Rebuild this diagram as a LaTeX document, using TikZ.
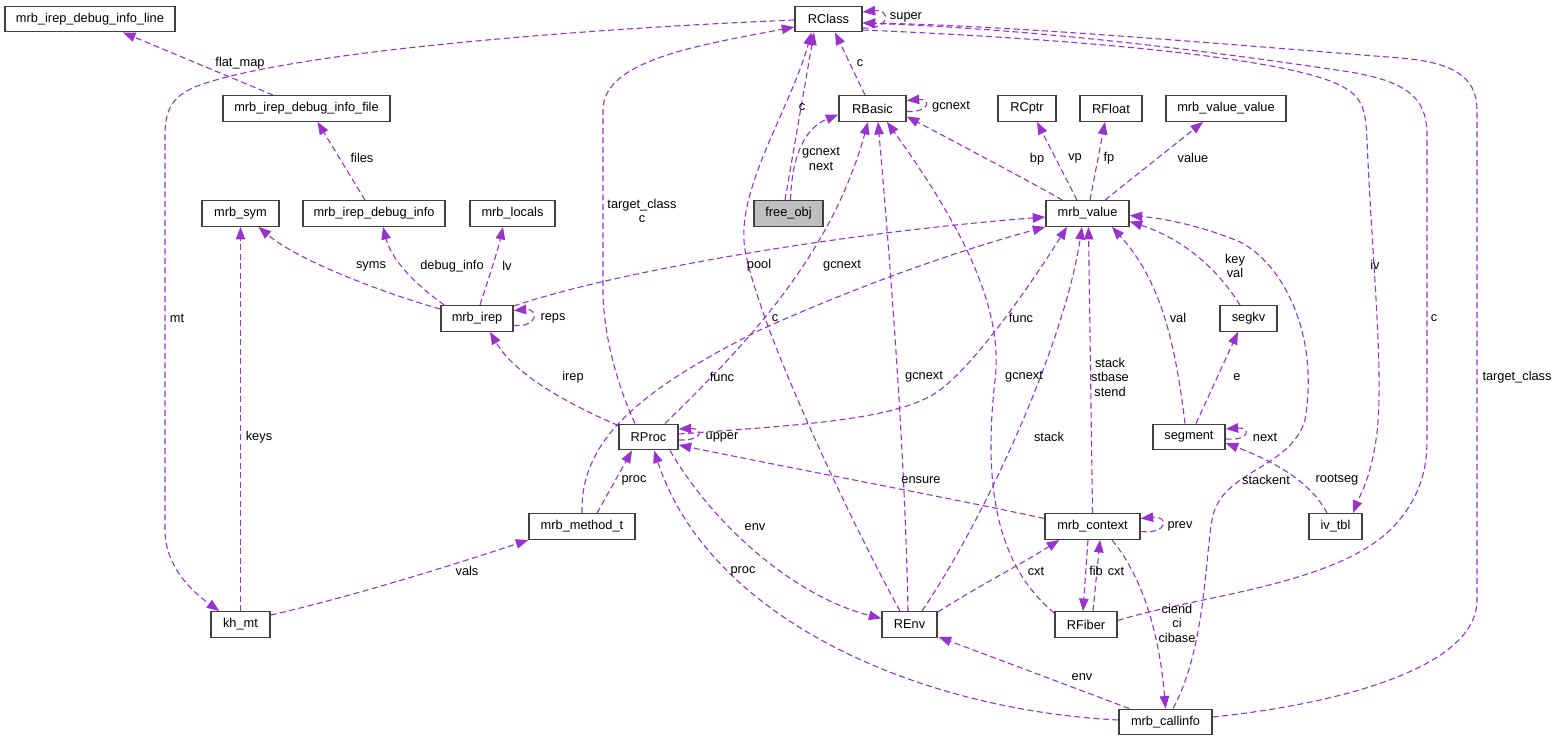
\documentclass[tikz,border=0pt]{standalone}
\usepackage{fontspec}
\setmainfont{Liberation Sans}
\usetikzlibrary{arrows.meta,calc,backgrounds}
\definecolor{edgecol}{HTML}{9A32CD}
\definecolor{nodeborder}{HTML}{404040}
\definecolor{subjfill}{HTML}{BFBFBF}
\newcommand\dxfont{\fontsize{12.8}{14.5}\selectfont}
\begin{document}
\begin{tikzpicture}[x=1pt,y=-1pt,
 box/.style={draw=nodeborder,line width=1.4pt,fill=white,minimum height=25.5pt,inner sep=0pt,font=\dxfont},
 rel/.style={draw=edgecol,line width=1.1pt,dash pattern=on 6pt off 3.5pt,-{Triangle[length=12.5pt,width=9.5pt]}},
 lab/.style={font=\dxfont,inner sep=0pt,align=center}]
\useasboundingbox (0,0) rectangle (1559,741);
% nodes
\node[box,minimum width=170pt] (line) at (90,19) {mrb\_irep\_debug\_info\_line};
\node[box,minimum width=167pt] (file) at (306.5,108.5) {mrb\_irep\_debug\_info\_file};
\node[box,minimum width=77pt] (sym) at (240.5,213.5) {mrb\_sym};
\node[box,minimum width=142pt] (dinfo) at (374,213.5) {mrb\_irep\_debug\_info};
\node[box,minimum width=85pt] (locals) at (512.5,213.5) {mrb\_locals};
\node[box,minimum width=67pt] (RClass) at (828.5,19) {RClass};
\node[box,minimum width=67pt] (RBasic) at (872.5,108.5) {RBasic};
\node[box,minimum width=58pt] (RCptr) at (1027,108.5) {RCptr};
\node[box,minimum width=62pt] (RFloat) at (1111,108.5) {RFloat};
\node[box,minimum width=120pt] (mvv) at (1226,108.5) {mrb\_value\_value};
\node[box,minimum width=69pt,fill=subjfill] (free) at (788.5,213.5) {free\_obj};
\node[box,minimum width=83pt] (mval) at (1087.5,213.5) {mrb\_value};
\node[box,minimum width=72pt] (irep) at (477,318.5) {mrb\_irep};
\node[box,minimum width=57pt] (segkv) at (1248.5,318.5) {segkv};
\node[box,minimum width=59pt] (RProc) at (648.5,437) {RProc};
\node[box,minimum width=72pt] (segment) at (1189,437) {segment};
\node[box,minimum width=106pt] (mt) at (582,526.5) {mrb\_method\_t};
\node[box,minimum width=95pt] (ctx) at (1092.5,526.5) {mrb\_context};
\node[box,minimum width=53pt] (ivtbl) at (1335.5,526.5) {iv\_tbl};
\node[box,minimum width=59pt] (kh) at (240.5,624.5) {kh\_mt};
\node[box,minimum width=55pt] (REnv) at (909.5,624.5) {REnv};
\node[box,minimum width=62pt] (RFiber) at (1086,624.5) {RFiber};
\node[box,minimum width=93pt] (callinfo) at (1165.5,722) {mrb\_callinfo};
% connectors
\begin{scope}[on background layer]
\fill[white] (0,0) rectangle (1559,741);
\draw[rel] ($(file.north)+(-33.5,0)$) -- ($(line.south)+(33,0)$);
\draw[rel] ($(dinfo.north)+(-9,0)$) -- ($(file.south)+(11,0)$);
\draw[rel] ($(irep.north west)+(0,4)$) .. controls (390,295) and (300,262) .. ($(sym.south)+(18,0)$);
\draw[rel] ($(irep.north west)+(4,0)$) .. controls (420,288) and (392,262) .. ($(dinfo.south)+(9,0)$);
\draw[rel] ($(irep.north)+(3,0)$) .. controls (488,280) and (498,250) .. ($(locals.south)+(-9.5,0)$);
\draw[rel] ($(irep.east)+(0,7)$) .. controls +(25,2) and +(25,-2) .. ($(irep.east)+(0,-8)$);
\draw[rel] ($(irep.north east)+(0,1)$) .. controls (620,270) and (850,232) .. ($(mval.west)+(0,3.5)$);
\draw[rel] (mt.north) .. controls (580,440) and (640,390) .. (760,330) .. controls (860,285) and (960,250) .. (mval.south west);
\draw[rel] ($(RProc.east)+(0,-3)$) .. controls (800,425) and (900,420) .. (940,390) .. controls (980,360) and (1040,270) .. ($(mval.south)+(-20.5,0)$);
\draw[rel] (ctx.north) -- ($(mval.south)+(1,0)$);
\draw[rel] ($(REnv.north)+(12.5,0)$) .. controls (990,510) and (1065,340) .. ($(mval.south)+(-5.5,0)$);
\draw[rel] ($(segment.north)+(-4,0)$) .. controls (1175,340) and (1160,280) .. ($(mval.south)+(24.5,0)$);
\draw[rel] ($(segkv.north)+(-8.5,0)$) .. controls (1215,265) and (1180,238) .. ($(mval.east)+(0,8)$);
\draw[rel] ($(callinfo.north)+(7.5,0)$) .. controls (1205,650) and (1205,560) .. (1212,520) .. controls (1220,470) and (1290,470) .. (1305,420) .. controls (1320,330) and (1280,262) .. (1240,242) .. controls (1200,225) and (1160,218) .. ($(mval.east)+(0,2)$);
\draw[rel] ($(mval.north west)+(17,0)$) .. controls (1045,190) and (980,155) .. ($(RBasic.east)+(0,8)$);
\draw[rel] ($(mval.north)+(-10.5,0)$) -- ($(RCptr.south)+(10,0)$);
\draw[rel] ($(mval.north)+(2.5,0)$) -- ($(RFloat.south)+(-6,0)$);
\draw[rel] ($(mval.north)+(17.5,0)$) -- ($(mvv.south)+(-23,0)$);
\draw[rel] ($(RBasic.north)+(-7.5,0)$) -- ($(RClass.south)+(6.5,0)$);
\draw[rel] ($(free.north)+(-3.5,0)$) -- ($(RClass.south)+(-14.5,0)$);
\draw[rel] ($(free.north)+(2,0)$) .. controls (792,155) and (805,128) .. ($(RBasic.west)+(0,6)$);
\draw[rel] ($(REnv.north)+(-9.5,0)$) .. controls (850,520) and (760,330) .. (745,250) .. controls (735,190) and (790,110) .. ($(RClass.south)+(-17,0)$);
\draw[rel] ($(RProc.north)+(16.5,0)$) .. controls (740,350) and (830,260) .. ($(RBasic.south)+(-4.5,0)$);
\draw[rel] ($(REnv.north)+(-1.5,0)$) .. controls (905,450) and (890,260) .. ($(RBasic.south)+(5.5,0)$);
\draw[rel] ($(RFiber.north west)+(0,2)$) .. controls (990,560) and (985,470) .. (995,380) .. controls (1005,300) and (950,210) .. ($(RBasic.south)+(14.5,0)$);
\draw[rel] ($(RBasic.east)+(0,3)$) .. controls +(24,1) and +(24,-2) .. ($(RBasic.east)+(0,-8)$);
\draw[rel] ($(RClass.east)+(0,9)$) .. controls +(28,2) and +(28,-3) .. ($(RClass.east)+(0,-7)$);
\draw[rel] ($(RProc.north)+(-13.5,0)$) .. controls (615,380) and (603,330) .. (603,290) -- (603,110) .. controls (603,60) and (700,45) .. ($(RClass.west)+(0,8)$);
\draw[rel] ($(RProc.north west)+(0,2)$) .. controls (570,405) and (515,375) .. ($(irep.south)+(13,0)$);
\draw[rel] ($(RProc.south)+(21.5,0)$) .. controls (710,520) and (790,595) .. ($(REnv.west)+(0,-6)$);
\draw[rel] ($(callinfo.west)+(0,-2)$) .. controls (920,710) and (710,620) .. ($(RProc.south)+(5.5,0)$);
\draw[rel] ($(mt.north)+(15,0)$) -- ($(RProc.south)+(-16.5,0)$);
\draw[rel] ($(kh.north east)+(0,4)$) .. controls (350,597) and (450,566) .. (mt.south west);
\draw[rel] ($(RClass.west)+(0,1)$) .. controls (600,28) and (300,50) .. (200,85) .. controls (172,95) and (165,110) .. (165,135) -- (165,530) .. controls (165,565) and (190,590) .. ($(kh.north west)+(9,0)$);
\draw[rel] (kh.north) -- (sym.south);
\draw[rel] ($(RClass.east)+(0,11)$) .. controls (1100,40) and (1300,60) .. (1345,88) .. controls (1362,98) and (1366,110) .. (1367,140) .. controls (1372,260) and (1385,380) .. (1376,440) .. controls (1370,480) and (1360,495) .. ($(ivtbl.north)+(17.5,0)$);
\draw[rel] ($(RFiber.east)+(0,-4)$) .. controls (1200,595) and (1340,585) .. (1395,525) .. controls (1420,497) and (1427,470) .. (1427,440) -- (1427,135) .. controls (1427,100) and (1410,82) .. (1350,72) .. controls (1150,42) and (1000,28) .. ($(RClass.east)+(0,4)$);
\draw[rel] ($(callinfo.east)+(0,-5)$) .. controls (1330,705) and (1477,670) .. (1477,600) -- (1477,110) .. controls (1477,75) and (1450,62) .. (1400,58) .. controls (1200,42) and (1000,25) .. ($(RClass.east)+(0,4)$);
\draw[rel] ($(ivtbl.north)+(-8.5,0)$) .. controls (1310,480) and (1270,460) .. ($(segment.east)+(0,6)$);
\draw[rel] ($(segment.north)+(7,0)$) -- ($(segkv.south)+(-10.5,0)$);
\draw[rel] ($(segment.east)+(0,2)$) .. controls +(25,2) and +(25,-2) .. ($(segment.east)+(0,-8)$);
\draw[rel] ($(ctx.east)+(0,5)$) .. controls +(28,3) and +(28,-3) .. ($(ctx.east)+(0,-8)$);
\draw[rel] ($(ctx.west)+(0,-8)$) .. controls (950,498) and (800,470) .. ($(RProc.east)+(0,8)$);
\draw[rel] ($(REnv.north east)+(0,1)$) .. controls (980,585) and (1020,565) .. ($(ctx.south west)+(15,0)$);
\draw[rel] ($(callinfo.north west)+(11,0)$) -- ($(REnv.south east)+(1,-1)$);
\draw[rel] ($(ctx.south)+(19.5,0)$) .. controls (1145,580) and (1160,640) .. (callinfo.north);
\draw[rel] ($(ctx.south)+(-4.5,0)$) -- ($(RFiber.north)+(-3,0)$);
\draw[rel] ($(RFiber.north)+(7,0)$) -- ($(ctx.south)+(7.5,0)$);
\draw[rel] ($(RProc.east)+(0,3)$) .. controls +(25,1) and +(25,-1) .. ($(RProc.east)+(0,-8)$);
\end{scope}
% labels
\node[lab] (l1) at (240,63) {flat\_map};
\node[lab] (l2) at (362,158) {files};
\node[lab] (l3) at (371,266) {syms};
\node[lab] (l4) at (452,266) {debug\_info};
\node[lab] (l5) at (507,266) {lv};
\node[lab] (l6) at (553,318) {reps};
\node[lab] (l7) at (759,265) {pool};
\node[lab] (l8) at (722,377) {func};
\node[lab] (l9) at (1021,318) {func};
\node[lab] (l10) at (1110,377) {stack\\stbase\\stend};
\node[lab] (l11) at (1049,437) {stack};
\node[lab] (l12) at (1178,318) {val};
\node[lab] (l13) at (1235,266) {key\\val};
\node[lab] (l14) at (1266,480) {stackent};
\node[lab] (l15) at (1037,159) {bp};
\node[lab] (l16) at (1075,158) {vp};
\node[lab] (l17) at (1109,158) {fp};
\node[lab] (l18) at (1193,158) {value};
\node[lab] (l19) at (860,63) {c};
\node[lab] (l20) at (802,107) {c};
\node[lab] (l21) at (821,159) {gcnext\\next};
\node[lab] (l22) at (775,318) {c};
\node[lab] (l23) at (842,266) {gcnext};
\node[lab] (l24) at (924,377) {gcnext};
\node[lab] (l25) at (1024,377) {gcnext};
\node[lab] (l26) at (951,107) {gcnext};
\node[lab] (l27) at (906,17) {super};
\node[lab] (l28) at (642,211) {target\_class\\c};
\node[lab] (l29) at (573,377) {irep};
\node[lab] (l30) at (755,527) {env};
\node[lab] (l31) at (743,571) {proc};
\node[lab] (l32) at (634,480) {proc};
\node[lab] (l33) at (467,571) {vals};
\node[lab] (l34) at (177,318) {mt};
\node[lab] (l35) at (259,437) {keys};
\node[lab] (l36) at (1375,265) {iv};
\node[lab] (l37) at (1434,318) {c};
\node[lab] (l38) at (1517,377) {target\_class};
\node[lab] (l39) at (1337,480) {rootseg};
\node[lab] (l40) at (1237,377) {e};
\node[lab] (l41) at (1265,437) {next};
\node[lab] (l42) at (1180,526) {prev};
\node[lab] (l43) at (921,480) {ensure};
\node[lab] (l44) at (1036,571) {cxt};
\node[lab] (l45) at (1082,677) {env};
\node[lab] (l46) at (1177,623) {ciend\\ci\\cibase};
\node[lab] (l47) at (1096,571) {fib};
\node[lab] (l48) at (1116,571) {cxt};
\node[lab] (l49) at (722,437) {upper};
\end{tikzpicture}
\end{document}
